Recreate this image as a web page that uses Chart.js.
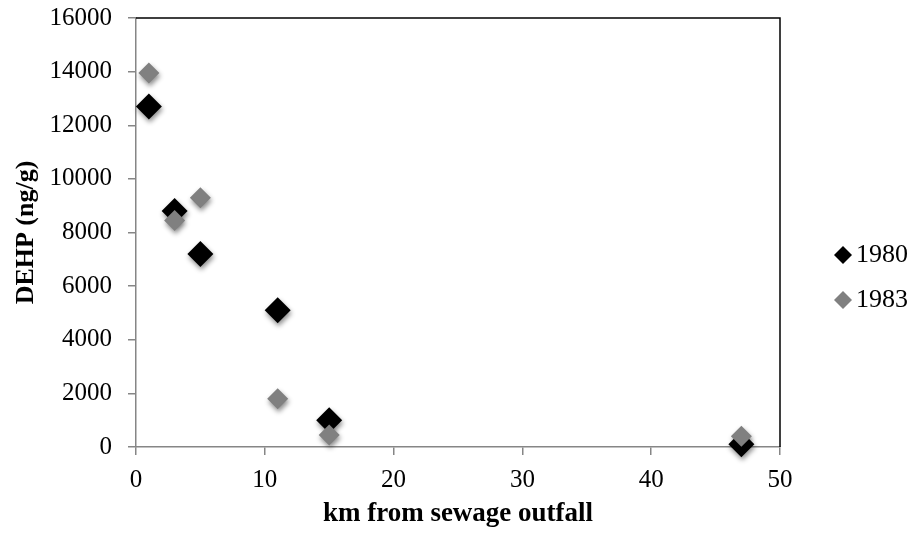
<!DOCTYPE html>
<html>
<head>
<meta charset="utf-8">
<title>DEHP vs distance from sewage outfall</title>
<script src="https://cdn.jsdelivr.net/npm/chart.js@4/dist/chart.umd.min.js"></script>
<style>
  html, body { margin: 0; padding: 0; background: #ffffff; }
  #wrap { width: 914px; height: 538px; }
</style>
</head>
<body>
<div id="wrap"><canvas id="chart" width="914" height="538"></canvas></div>
<script>
// Sampling stations (km from the outfall) and DEHP concentration in sediment (ng/g)
const distanceKm = [1, 3, 5, 11, 15, 47];
const dehp1980 = [12700, 8800, 7200, 5100, 1000, 100];
const dehp1983 = [13950, 8450, 9300, 1800, 450, 400];
const seriesNames = ['1980', '1983'];
const xTitle = 'km from sewage outfall';
const yTitle = 'DEHP (ng/g)';

const FONT = 'Liberation Serif, Times New Roman, serif';
const AXIS_GREY = '#868686';

function toPoints(xs, ys) {
  return xs.map((x, i) => ({ x: x, y: ys[i] }));
}

// Soft drop shadow under the markers
const markerShadow = {
  id: 'markerShadow',
  beforeDatasetsDraw(chart) {
    const ctx = chart.ctx;
    ctx.save();
    ctx.shadowColor = 'rgba(0,0,0,0.45)';
    ctx.shadowBlur = 5;
    ctx.shadowOffsetX = 1;
    ctx.shadowOffsetY = 3;
  },
  afterDatasetsDraw(chart) {
    chart.ctx.restore();
  }
};

// Black top and right edges of the plot frame
const plotFrame = {
  id: 'plotFrame',
  beforeDatasetsDraw(chart) {
    const { ctx, chartArea: a } = chart;
    ctx.save();
    ctx.strokeStyle = '#000000';
    ctx.lineWidth = 1.5;
    ctx.beginPath();
    ctx.moveTo(a.left, a.top);
    ctx.lineTo(a.right, a.top);
    ctx.lineTo(a.right, a.bottom);
    ctx.stroke();
    ctx.restore();
  }
};

// Legend to the right of the plot: diamond marker followed by the year
const sideLegend = {
  id: 'sideLegend',
  afterDraw(chart) {
    const ctx = chart.ctx;
    const markerX = 843, textX = 856, firstRowY = 255, rowGap = 45, r = 9;
    ctx.save();
    chart.data.datasets.forEach((ds, i) => {
      const y = firstRowY + i * rowGap;
      ctx.fillStyle = ds.backgroundColor;
      ctx.beginPath();
      ctx.moveTo(markerX - r, y);
      ctx.lineTo(markerX, y - r);
      ctx.lineTo(markerX + r, y);
      ctx.lineTo(markerX, y + r);
      ctx.closePath();
      ctx.fill();
      ctx.fillStyle = '#000000';
      ctx.font = '26px ' + FONT;
      ctx.textAlign = 'left';
      ctx.textBaseline = 'middle';
      ctx.fillText(ds.label, textX, y);
    });
    ctx.restore();
  }
};

new Chart(document.getElementById('chart'), {
  type: 'scatter',
  data: {
    datasets: [
      {
        label: seriesNames[0],
        data: toPoints(distanceKm, dehp1980),
        pointStyle: 'rectRot',
        pointRadius: 13,
        pointHoverRadius: 13,
        backgroundColor: '#000000',
        borderColor: '#000000',
        borderWidth: 0,
        clip: false,
        order: 1
      },
      {
        label: seriesNames[1],
        data: toPoints(distanceKm, dehp1983),
        pointStyle: 'rectRot',
        pointRadius: 10.5,
        pointHoverRadius: 10.5,
        backgroundColor: '#808080',
        borderColor: '#808080',
        borderWidth: 0,
        clip: false,
        order: 0
      }
    ]
  },
  options: {
    responsive: false,
    animation: false,
    events: [],
    layout: { padding: { top: 18, right: 134, bottom: 0, left: 0 } },
    plugins: {
      legend: { display: false },
      tooltip: { enabled: false }
    },
    scales: {
      x: {
        type: 'linear',
        min: 0,
        max: 50,
        afterFit(scale) {
          scale.height = 91;
          scale.paddingLeft = 0;
          scale.paddingRight = 0;
        },
        ticks: {
          stepSize: 10,
          color: '#000000',
          padding: 10,
          maxRotation: 0,
          font: { family: FONT, size: 25 },
          callback: (v) => String(v)
        },
        grid: {
          display: true,
          drawOnChartArea: false,
          drawTicks: true,
          tickLength: 8,
          color: AXIS_GREY,
          lineWidth: 1.5
        },
        border: { display: true, color: AXIS_GREY, width: 1.5 },
        title: {
          display: true,
          text: xTitle,
          color: '#000000',
          padding: { top: 0, bottom: 8 },
          font: { family: FONT, size: 27, weight: 'bold' }
        }
      },
      y: {
        type: 'linear',
        min: 0,
        max: 16000,
        afterFit(scale) {
          scale.width = 136;
          scale.paddingTop = 0;
          scale.paddingBottom = 0;
        },
        ticks: {
          stepSize: 2000,
          color: '#000000',
          padding: 16,
          font: { family: FONT, size: 25 },
          callback: (v) => String(v)
        },
        grid: {
          display: true,
          drawOnChartArea: false,
          drawTicks: true,
          tickLength: 8,
          color: AXIS_GREY,
          lineWidth: 1.5
        },
        border: { display: true, color: AXIS_GREY, width: 1.5 },
        title: {
          display: true,
          text: yTitle,
          color: '#000000',
          padding: { top: 11, bottom: 0 },
          font: { family: FONT, size: 26, weight: 'bold' }
        }
      }
    }
  },
  plugins: [plotFrame, markerShadow, sideLegend]
});
</script>
</body>
</html>
